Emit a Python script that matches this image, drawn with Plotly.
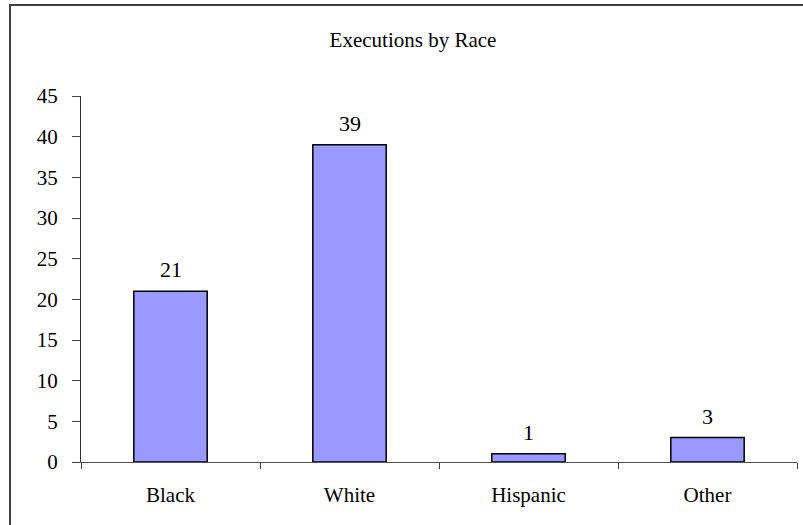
import plotly.graph_objects as go

categories = ["Black", "White", "Hispanic", "Other"]
executions = [21, 39, 1, 3]
y_ticks = [0, 5, 10, 15, 20, 25, 30, 35, 40, 45]

FONT = "Liberation Serif"
W, H = 803, 525
L, R, T, B = 81, 6, 96, 63
pw, ph = W - L - R, H - T - B

fig = go.Figure()
fig.add_trace(go.Bar(
    x=categories, y=executions, width=0.41,
    marker=dict(color="#9999FF", line=dict(color="#000000", width=1.5)),
    hoverinfo="x+y",
))

for c, v in zip(categories, executions):
    fig.add_annotation(x=c, y=v, text=str(v), showarrow=False,
                       yanchor="bottom", yshift=7,
                       font=dict(family=FONT, size=22, color="#000000"))

# outer chart frame (left & top visible)
fig.add_shape(type="rect", xref="paper", yref="paper",
              x0=(10 - L) / pw, x1=(W + 20 - L) / pw,
              y0=-(B + 20) / ph, y1=(H - B - 5) / ph,
              line=dict(color="#404040", width=2), fillcolor="rgba(0,0,0,0)")

fig.update_layout(
    width=W, height=H,
    margin=dict(l=L, r=R, t=T, b=B),
    paper_bgcolor="white", plot_bgcolor="white",
    showlegend=False, bargap=0.59,
    title=dict(text="Executions by Race", x=(413 - L) / pw, xref="paper", xanchor="center",
               y=1 - 40 / H, yanchor="middle",
               font=dict(family=FONT, size=21, color="#000000")),
    font=dict(family=FONT, size=21, color="#000000"),
)
fig.update_xaxes(
    type="category", range=[-0.5, 3.5], tickson="boundaries",
    ticks="outside", ticklen=6, tickcolor="#404040", tickwidth=1,
    showline=True, linecolor="#505050", linewidth=1.2,
    showgrid=False, zeroline=False, ticklabelstandoff=14,
    tickfont=dict(family=FONT, size=21, color="#000000"),
)
fig.update_yaxes(
    range=[0, 45], tickvals=y_ticks, ticktext=[str(t) for t in y_ticks],
    ticks="outside", ticklen=8, tickcolor="#404040", tickwidth=1,
    showline=True, linecolor="#303030", linewidth=1.2,
    showgrid=False, zeroline=False, ticklabelstandoff=10,
    tickfont=dict(family=FONT, size=21, color="#000000"),
)

fig.write_html("out.html", config={"displayModeBar": False},
               post_script="document.body.style.margin='0';document.body.style.padding='0';")
